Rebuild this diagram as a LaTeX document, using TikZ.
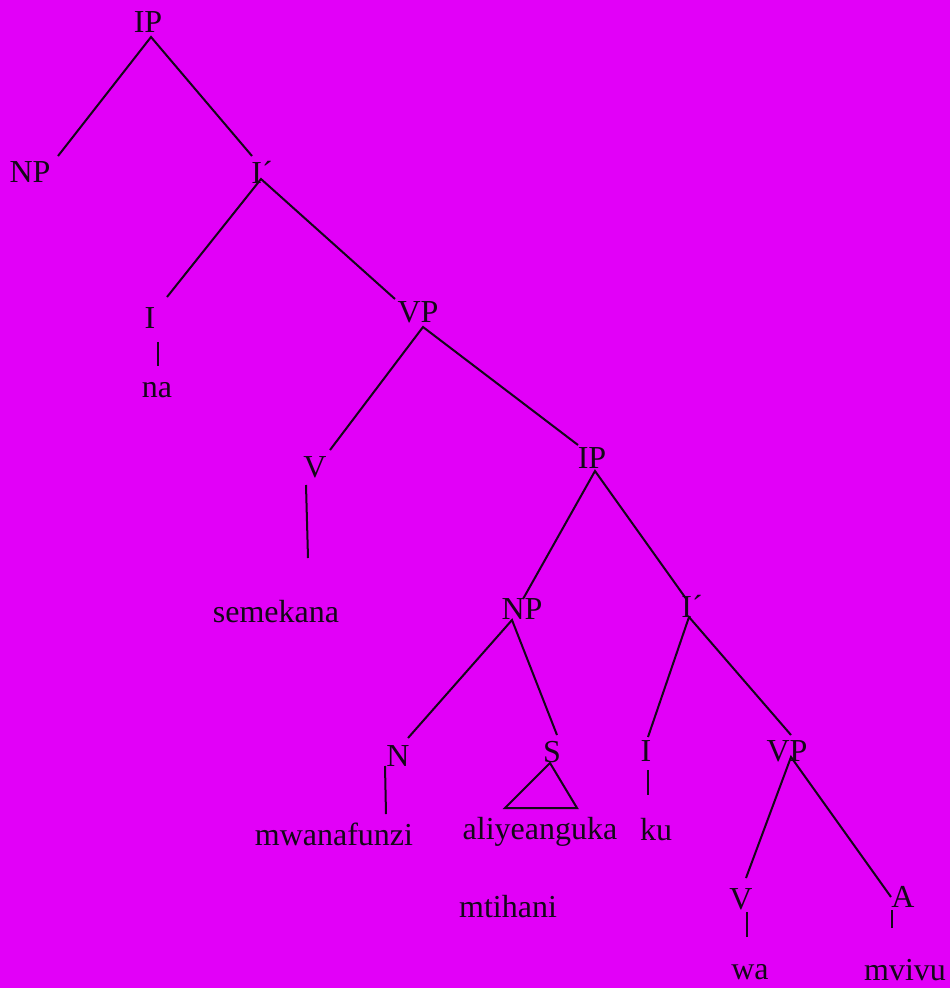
\documentclass[tikz,border=0pt]{standalone}
\usepackage{fontspec}
\setmainfont{Liberation Serif}
\definecolor{bg}{RGB}{226,0,248}
\definecolor{ink}{RGB}{20,8,24}
\begin{document}
\begin{tikzpicture}[x=1pt,y=-1pt,
  lbl/.style={inner sep=0pt,text=ink,font=\fontsize{32}{37}\selectfont},
  br/.style={draw=ink,line width=2pt}]
\fill[bg] (0,0) rectangle (950,988);
\useasboundingbox (0,0) rectangle (950,988);
% labels
\node[lbl] (ip) at (148,22) {IP};
\node[lbl] (np) at (30,172) {NP};
\node[lbl] (ib) at (262,172) {I´};
\node[lbl] (i) at (150,318) {I};
\node[lbl] (na) at (157,390) {na};
\node[lbl] (vp) at (418,312) {VP};
\node[lbl] (v) at (315,467) {V};
\node[lbl] (sem) at (276,612) {semekana};
\node[lbl] (ip2) at (592,458) {IP};
\node[lbl] (np2) at (522,609) {NP};
\node[lbl] (ib2) at (692,606) {I´};
\node[lbl] (n) at (398,756) {N};
\node[lbl] (s) at (552,752) {S};
\node[lbl] (mwa) at (334,834) {mwanafunzi};
\node[lbl] (ali) at (540,832) {aliyeanguka};
\node[lbl] (mti) at (508,907) {mtihani};
\node[lbl] (i2) at (646,751) {I};
\node[lbl] (ku) at (656,830) {ku};
\node[lbl] (vp2) at (787,751) {VP};
\node[lbl] (v2) at (741,899) {V};
\node[lbl] (a) at (903,897) {A};
\node[lbl] (wa) at (750,972) {wa};
\node[lbl] (mv) at (905,970) {mvivu};
% connector end points
\coordinate (ipB) at (151,37);
\coordinate (npT) at (58,156);
\coordinate (ibT) at (252,156);
\coordinate (ibB) at (261,179);
\coordinate (iT) at (167,297);
\coordinate (vpT) at (395,299);
\coordinate (iB) at (158,342);
\coordinate (naT) at (158,366);
\coordinate (vpB) at (423,327);
\coordinate (vT) at (330,450);
\coordinate (ip2T) at (578,445);
\coordinate (vB) at (306,485);
\coordinate (semT) at (308,558);
\coordinate (ip2B) at (595,471);
\coordinate (np2T) at (523,599);
\coordinate (ib2T) at (687,600);
\coordinate (np2B) at (512,620);
\coordinate (nT) at (408,738);
\coordinate (sT) at (557,735);
\coordinate (ib2B) at (689,617);
\coordinate (i2T) at (648,737);
\coordinate (vp2T) at (791,735);
\coordinate (nB) at (385,766);
\coordinate (mwaT) at (386,814);
\coordinate (sB) at (550,763);
\coordinate (triL) at (505,808);
\coordinate (triR) at (577,808);
\coordinate (i2B) at (648,770);
\coordinate (kuT) at (648,795);
\coordinate (vp2B) at (791,757);
\coordinate (v2T) at (746,878);
\coordinate (aT) at (891,897);
\coordinate (v2B) at (747,912);
\coordinate (waT) at (747,937);
\coordinate (aB) at (892,910);
\coordinate (mvT) at (892,928);
% branches
\draw[br] (npT) -- (ipB) -- (ibT);
\draw[br] (iT) -- (ibB) -- (vpT);
\draw[br] (iB) -- (naT);
\draw[br] (vT) -- (vpB) -- (ip2T);
\draw[br] (vB) -- (semT);
\draw[br] (np2T) -- (ip2B) -- (ib2T);
\draw[br] (nT) -- (np2B) -- (sT);
\draw[br] (i2T) -- (ib2B) -- (vp2T);
\draw[br] (nB) -- (mwaT);
\draw[br] (sB) -- (triL) -- (triR) -- cycle;
\draw[br] (i2B) -- (kuT);
\draw[br] (v2T) -- (vp2B) -- (aT);
\draw[br] (v2B) -- (waT);
\draw[br] (aB) -- (mvT);
\end{tikzpicture}
\end{document}
